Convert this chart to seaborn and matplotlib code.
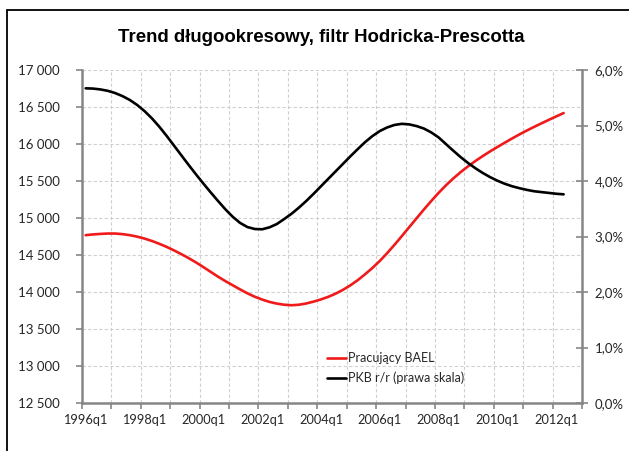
import matplotlib
matplotlib.use("Agg")
import matplotlib.pyplot as plt
from matplotlib.patches import Rectangle
from matplotlib.lines import Line2D
from matplotlib.ticker import FixedLocator, FuncFormatter, NullFormatter
import seaborn as sns
import pandas as pd

# Quarterly HP-filter trends, 1996q1 - 2012q2
quarters = [f"{y}q{q}" for y in range(1996, 2013) for q in range(1, 5)][:66]

employed_bael = [
    14768, 14778, 14785, 14790, 14790, 14782, 14768, 14748, 14722, 14690,
    14652, 14610, 14563, 14512, 14458, 14400, 14337, 14272, 14207, 14147,
    14091, 14035, 13982, 13936, 13898, 13866, 13843, 13828, 13821, 13828,
    13845, 13870, 13900, 13935, 13978, 14030, 14090, 14160, 14240, 14325,
    14420, 14525, 14638, 14756, 14876, 14996, 15115, 15230, 15340, 15442,
    15535, 15620, 15698, 15770, 15837, 15900, 15960, 16018, 16075, 16130,
    16182, 16232, 16280, 16327, 16373, 16418,
]

gdp_yoy = [
    5.670, 5.665, 5.650, 5.625, 5.585, 5.530, 5.460, 5.370, 5.260, 5.130,
    4.980, 4.815, 4.640, 4.465, 4.290, 4.120, 3.955, 3.795, 3.640, 3.490,
    3.355, 3.245, 3.170, 3.135, 3.130, 3.165, 3.225, 3.315, 3.410, 3.520,
    3.640, 3.770, 3.905, 4.040, 4.175, 4.310, 4.445, 4.575, 4.700, 4.810,
    4.900, 4.965, 5.010, 5.030, 5.020, 4.990, 4.945, 4.875, 4.785, 4.665,
    4.545, 4.430, 4.325, 4.230, 4.145, 4.070, 4.005, 3.950, 3.905, 3.870,
    3.840, 3.815, 3.800, 3.785, 3.770, 3.760,
]

left_ticks = [12500, 13000, 13500, 14000, 14500, 15000, 15500, 16000, 16500, 17000]
right_ticks = [0, 1, 2, 3, 4, 5, 6]
x_labels = ["1996q1", "1998q1", "2000q1", "2002q1", "2004q1",
            "2006q1", "2008q1", "2010q1", "2012q1"]
n_categories = 68  # axis spans 1996q1 - 2012q4

title = "Trend długookresowy, filtr Hodricka-Prescotta"
label_red = "Pracujący BAEL"
label_black = "PKB r/r (prawa skala)"

df = pd.DataFrame({
    "pos": range(len(quarters)),
    "quarter": quarters,
    "bael": employed_bael,
    "gdp": gdp_yoy,
})

sns.set_theme(style="white")
plt.rcParams["font.family"] = ["Lato", "DejaVu Sans"]

AXIS_GREY = "#868686"
GRID_GREY = "#d0d0d0"
TEXT = "#262626"
RED = "#f01a1a"

fig = plt.figure(figsize=(6.29, 4.51), dpi=100)
fig.patch.set_facecolor("white")
ax = fig.add_axes([82 / 629, 1 - 403 / 451, 500 / 629, 333 / 451])
ax2 = ax.twinx()

sns.lineplot(data=df, x="pos", y="bael", ax=ax, color=RED, lw=1.9, legend=False)
sns.lineplot(data=df, x="pos", y="gdp", ax=ax2, color="black", lw=1.9, legend=False)

# category axis: ticks between categories every year, labels every two years
ax.set_xlim(-0.5, n_categories - 0.5)
boundaries = [-0.5 + 4 * k for k in range(n_categories // 4 + 1)]
ax.xaxis.set_major_locator(FixedLocator(boundaries))
ax.xaxis.set_major_formatter(NullFormatter())
label_pos = [quarters.index(q) for q in x_labels]
ax.xaxis.set_minor_locator(FixedLocator(label_pos))
ax.xaxis.set_minor_formatter(FuncFormatter(lambda v, p: x_labels[p] if p < len(x_labels) else ""))
ax.tick_params(axis="x", which="major", direction="out", length=4, width=1.2,
               color=AXIS_GREY, bottom=True)
ax.tick_params(axis="x", which="minor", length=0, pad=8, labelsize=9.2,
               labelcolor=TEXT, bottom=True)

ax.set_ylim(12500, 17000)
ax.yaxis.set_major_locator(FixedLocator(left_ticks))
ax.yaxis.set_major_formatter(FuncFormatter(lambda v, p: f"{int(v):,}".replace(",", " ")))
ax.tick_params(axis="y", direction="out", length=4, width=1.2, color=AXIS_GREY,
               labelsize=9.5, labelcolor=TEXT, pad=12, left=True)

ax2.set_ylim(0, 6)
ax2.yaxis.set_major_locator(FixedLocator(right_ticks))
ax2.yaxis.set_major_formatter(FuncFormatter(lambda v, p: f"{v:.1f}%".replace(".", ",")))
ax2.tick_params(axis="y", direction="inout", length=8, width=1.2, color=AXIS_GREY,
                labelsize=9.5, labelcolor=TEXT, pad=5, right=True)

ax.set_xlabel("")
ax.set_ylabel("")
ax2.set_ylabel("")

ax.grid(True, which="major", axis="both", color=GRID_GREY, linestyle=(0, (3, 2)), lw=0.8)
ax2.grid(False)
ax.set_axisbelow(True)

for a in (ax, ax2):
    a.spines["top"].set_visible(False)
    for s in ("left", "right", "bottom"):
        a.spines[s].set_color(AXIS_GREY)
        a.spines[s].set_linewidth(1.8)
ax.spines["right"].set_visible(False)
ax2.spines["left"].set_visible(False)
ax2.spines["bottom"].set_visible(False)

handles = [Line2D([], [], color=RED, lw=1.9), Line2D([], [], color="black", lw=1.9)]
fig.legend(handles, [label_red, label_black], loc="upper left",
           bbox_to_anchor=(316 / 629, 1 - 341 / 451), frameon=False,
           handlelength=1.5, handletextpad=0.15, labelspacing=0.6,
           prop={"size": 9}, labelcolor=TEXT)

fig.text(321 / 629, 1 - 37 / 451, title, ha="center", va="center",
         fontsize=13.4, fontweight="bold", family=["Liberation Sans", "DejaVu Sans"],
         color="black")

# outer chart frame
fig.patches.append(Rectangle((7 / 629, -0.05), 1.2, 1 - 10 / 451 + 0.05,
                             transform=fig.transFigure, fill=False,
                             edgecolor="black", lw=1.3))

fig.savefig("out.png", dpi=100, facecolor="white")
